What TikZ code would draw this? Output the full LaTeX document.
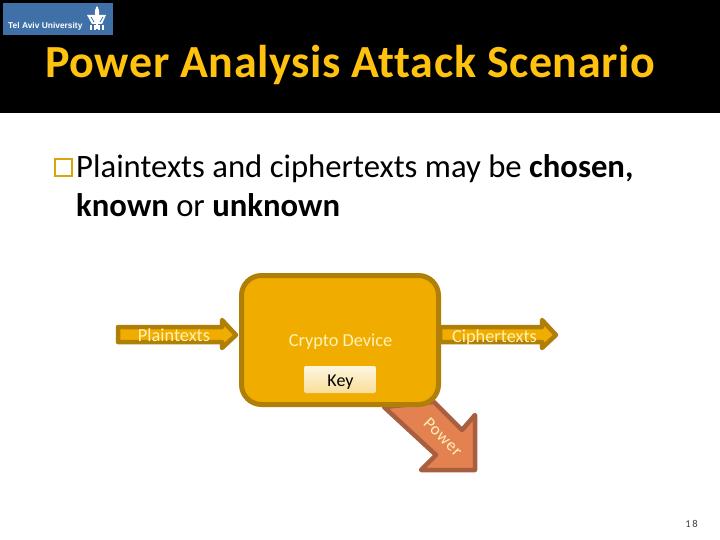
\documentclass[tikz,border=0pt]{standalone}
\usepackage{fontspec}
\setmainfont[Ligatures=NoCommon]{Carlito}
\newfontfamily\logofont{Liberation Sans}
\newfontfamily\spacedtitle[LetterSpace=1.3,Ligatures=NoCommon]{Carlito Bold}
\newfontfamily\spacedpower[LetterSpace=5]{Carlito}
\usetikzlibrary{shadings}
\definecolor{gold}{HTML}{F0AD00}
\definecolor{golddark}{HTML}{B07F08}
\definecolor{titlegold}{HTML}{FFC20E}
\definecolor{powerfill}{HTML}{E48150}
\definecolor{powerline}{HTML}{A85F3F}
\definecolor{paletext}{HTML}{FFF2B8}
\definecolor{logoblue}{HTML}{3F70A8}
\tikzset{
  x=1pt,y=-1pt,
  goldshape/.style={fill=gold,draw=golddark,line width=4.5pt,line join=round},
  flowlabel/.style={font=\fontsize{18.3}{20}\selectfont,text=paletext,inner sep=0pt},
  bodytext/.style={font=\fontsize{32.7}{38}\selectfont,anchor=base west,inner sep=0pt,text=black},
}
\begin{document}
\begin{tikzpicture}
\useasboundingbox (0,0) rectangle (720,540);
\fill[white] (0,0) rectangle (720,540);
\fill[black] (0,0) rectangle (720,113);
% logo
\fill[logoblue] (3,3) rectangle (113,35);
\node[anchor=base west,inner sep=0pt,text=white,font=\logofont\bfseries\fontsize{8.4}{10}\selectfont] (logotext) at (8,29) {Tel Aviv University};
\draw[white,line width=2pt] (97,7) -- (97,29);
\fill[white] (97,6) .. controls (100,11) and (100,15) .. (97,19) .. controls (94,15) and (94,11) .. (97,6) -- cycle;
\fill[white] (87,15) -- (106,15) -- (102,24) -- (92,24) -- cycle;
\draw[white,line width=1.2pt] (91,25) -- (91,30) (95,25) -- (95,30) (99,25) -- (99,30) (103,25) -- (103,30);
\draw[logoblue,line width=.8pt] (91,17) -- (94,22) (103,17) -- (100,22);
% title
\node[anchor=base west,inner sep=0pt,text=titlegold,font=\spacedtitle\fontsize{46}{50}\selectfont] (title) at (45,78) {Power Analysis Attack Scenario};
% bullet text
\draw[draw=titlegold!85!black,line width=2pt] (54.5,159) rectangle (72,176);
\node[bodytext] (line1) at (76,178) {Plaintexts and ciphertexts may be \textbf{chosen,}};
\node[bodytext] (line2) at (76,216) {\textbf{known} or \textbf{unknown}};
% power arrow
\draw[fill=powerfill,draw=powerline,line width=4.5pt,line join=round] (384,407) -- (436,455) -- (421,470) -- (475,470) -- (475,415) -- (462,430) -- (434,402) -- cycle;
% flow arrows
\draw[goldshape] (118,327) -- (222,327) -- (222,320) -- (236,335) -- (222,348) -- (222,342) -- (118,342) -- cycle;
\draw[goldshape] (440,327) -- (542,327) -- (542,320) -- (556,335) -- (542,348) -- (542,342) -- (440,342) -- cycle;
% device
\node[draw=golddark,fill=gold,line width=5pt,rounded corners=20pt,minimum width=197pt,minimum height=129pt,inner sep=0pt] (device) at (340,340) {};
\node[flowlabel,anchor=base] (cryptolabel) at (340.5,346) {Crypto Device};
\node[flowlabel,anchor=base] (plain) at (174,341) {Plaintexts};
\node[flowlabel,anchor=base] (cipher) at (494.5,342) {Ciphertexts};
\node[flowlabel,rotate=-45,font=\spacedpower\fontsize{17}{19}\selectfont] (powerlabel) at (443,437) {Power};
% key
\shade[top color=white!80!gold!60!white,bottom color=gold!40!white,rounded corners=2pt] (304,366) rectangle (376,393);
\node[inner sep=0pt,font=\fontsize{18}{20}\selectfont,text=black,anchor=base] (key) at (340.5,386) {Key};
% page
\node[inner sep=0pt,anchor=base,font=\fontsize{10.5}{12}\selectfont,text=black!75] (page) at (691.5,527) {1\,8};
\end{tikzpicture}
\end{document}
